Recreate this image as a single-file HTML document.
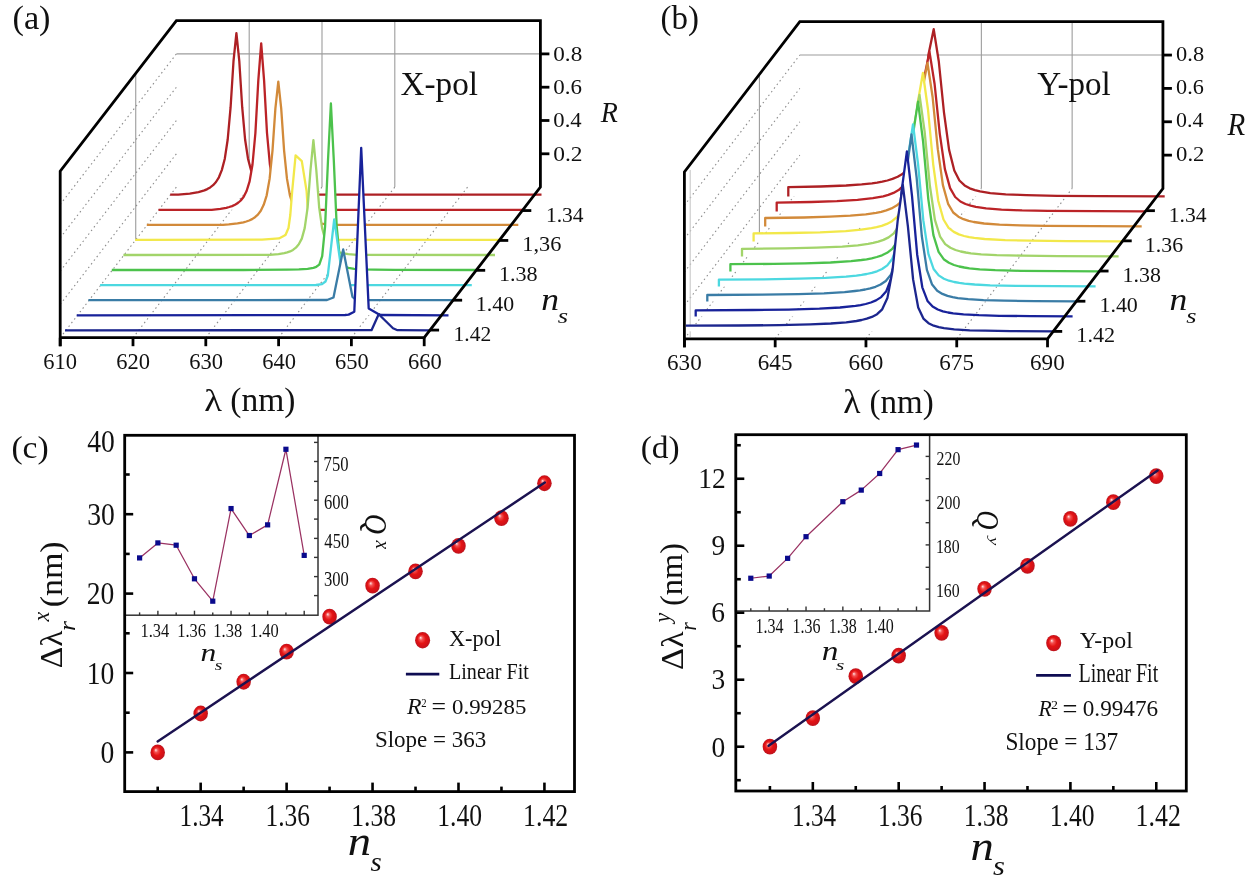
<!DOCTYPE html>
<html><head><meta charset="utf-8"><title>figure</title>
<style>html,body{margin:0;padding:0;background:#fff;}svg{display:block;filter:blur(0.45px);}text{font-family:"Liberation Serif",serif;}</style>
</head><body>
<svg width="1256" height="879" viewBox="0 0 1256 879" font-family="'Liberation Serif', serif">
<defs><radialGradient id="sph" cx="0.5" cy="0.5" r="0.5" fx="0.36" fy="0.34"><stop offset="0" stop-color="#ffe4e4"/><stop offset="0.25" stop-color="#f35050"/><stop offset="0.55" stop-color="#e41414"/><stop offset="0.85" stop-color="#d01018"/><stop offset="1" stop-color="#b81a22"/></radialGradient></defs>
<rect width="1256" height="879" fill="#fff"/>
<line x1="249.2" y1="20.6" x2="249.2" y2="187.1" stroke="#9c9c9c" stroke-width="1.1"/>
<line x1="322" y1="20.6" x2="322" y2="187.1" stroke="#9c9c9c" stroke-width="1.1"/>
<line x1="394.8" y1="20.6" x2="394.8" y2="187.1" stroke="#9c9c9c" stroke-width="1.1"/>
<line x1="176.4" y1="53.9" x2="540.4" y2="53.9" stroke="#9c9c9c" stroke-width="1.1"/>
<line x1="60.2" y1="337.7" x2="176.4" y2="187.1" stroke="#8c8c8c" stroke-width="1.1" stroke-dasharray="1.5 3.1"/>
<line x1="60.2" y1="304.4" x2="176.4" y2="153.8" stroke="#8c8c8c" stroke-width="1.1" stroke-dasharray="1.5 3.1"/>
<line x1="60.2" y1="271.1" x2="176.4" y2="120.5" stroke="#8c8c8c" stroke-width="1.1" stroke-dasharray="1.5 3.1"/>
<line x1="60.2" y1="237.8" x2="176.4" y2="87.2" stroke="#8c8c8c" stroke-width="1.1" stroke-dasharray="1.5 3.1"/>
<line x1="60.2" y1="204.5" x2="176.4" y2="53.9" stroke="#8c8c8c" stroke-width="1.1" stroke-dasharray="1.5 3.1"/>
<line x1="133" y1="337.7" x2="249.2" y2="187.1" stroke="#8c8c8c" stroke-width="1.1" stroke-dasharray="1.5 3.1"/>
<line x1="205.8" y1="337.7" x2="322" y2="187.1" stroke="#8c8c8c" stroke-width="1.1" stroke-dasharray="1.5 3.1"/>
<line x1="278.6" y1="337.7" x2="394.8" y2="187.1" stroke="#8c8c8c" stroke-width="1.1" stroke-dasharray="1.5 3.1"/>
<line x1="351.4" y1="337.7" x2="467.6" y2="187.1" stroke="#8c8c8c" stroke-width="1.1" stroke-dasharray="1.5 3.1"/>
<line x1="135.73" y1="73.31" x2="135.73" y2="239.81" stroke="#9c9c9c" stroke-width="1.1"/>
<path d="M170.2,194.7 178.2,194.7 189.8,193.6 198.5,192.1 204.4,190.4 207.3,189.1 210.2,187.4 213.1,185.2 216,182 218.9,177.3 221.8,170.1 224.8,158.7 227.7,139.5 230.6,107.2 233.5,61.2 236.4,33.2 239.3,61.2 242.2,107.2 245.1,139.5 248,158.7 251,170.1 253.9,177.3 256.8,182 259.7,185.2 262.6,187.4 265.5,189.1 268.4,190.4 271.3,191.3 277.2,192.7 285.9,194 294.6,194.7 541.5,194.7 V194.7 H170.2Z" fill="#fff" stroke="none"/>
<path d="M170.2,194.7 178.2,194.7 189.8,193.6 198.5,192.1 204.4,190.4 207.3,189.1 210.2,187.4 213.1,185.2 216,182 218.9,177.3 221.8,170.1 224.8,158.7 227.7,139.5 230.6,107.2 233.5,61.2 236.4,33.2 239.3,61.2 242.2,107.2 245.1,139.5 248,158.7 251,170.1 253.9,177.3 256.8,182 259.7,185.2 262.6,187.4 265.5,189.1 268.4,190.4 271.3,191.3 277.2,192.7 285.9,194 294.6,194.7 541.5,194.7" fill="none" stroke="#ad2024" stroke-width="2.3" stroke-linejoin="round"/>
<path d="M158.5,209.8 211.7,209.8 220.4,208.8 226.3,207.8 229.2,207 232.1,206.1 235,204.8 237.9,203 240.8,200.5 243.7,196.8 246.6,191 249.6,181.4 252.5,164.5 255.4,133 258.3,80.6 261.2,43.3 264.1,80.6 267,133 269.9,164.5 272.8,181.4 275.8,191 278.7,196.8 281.6,200.5 284.5,203 287.4,204.8 290.3,206.1 293.2,207 296.1,207.8 302,208.8 310.7,209.8 523.2,209.8 V209.8 H158.5Z" fill="#fff" stroke="none"/>
<path d="M158.5,209.8 211.7,209.8 220.4,208.8 226.3,207.8 229.2,207 232.1,206.1 235,204.8 237.9,203 240.8,200.5 243.7,196.8 246.6,191 249.6,181.4 252.5,164.5 255.4,133 258.3,80.6 261.2,43.3 264.1,80.6 267,133 269.9,164.5 272.8,181.4 275.8,191 278.7,196.8 281.6,200.5 284.5,203 287.4,204.8 290.3,206.1 293.2,207 296.1,207.8 302,208.8 310.7,209.8 523.2,209.8" fill="none" stroke="#bb2327" stroke-width="2.3" stroke-linejoin="round"/>
<path d="M146.8,224.8 223,224.8 228.8,224.4 237.5,223.4 243.4,222.3 246.3,221.5 249.2,220.5 252.1,219.1 255,217.2 257.9,214.6 260.8,210.8 263.7,204.8 266.7,195.3 269.6,178.9 272.5,150.6 275.4,108.4 278.3,81.6 281.2,108.4 284.1,150.6 287,178.9 289.9,195.3 292.9,204.8 295.8,210.8 298.7,214.6 301.6,217.2 304.5,219.1 307.4,220.5 310.3,221.5 316.2,222.9 324.9,224.1 333.6,224.8 518.3,224.8 V224.8 H146.8Z" fill="#fff" stroke="none"/>
<path d="M146.8,224.8 223,224.8 228.8,224.4 237.5,223.4 243.4,222.3 246.3,221.5 249.2,220.5 252.1,219.1 255,217.2 257.9,214.6 260.8,210.8 263.7,204.8 266.7,195.3 269.6,178.9 272.5,150.6 275.4,108.4 278.3,81.6 281.2,108.4 284.1,150.6 287,178.9 289.9,195.3 292.9,204.8 295.8,210.8 298.7,214.6 301.6,217.2 304.5,219.1 307.4,220.5 310.3,221.5 316.2,222.9 324.9,224.1 333.6,224.8 518.3,224.8" fill="none" stroke="#d28a3a" stroke-width="2.3" stroke-linejoin="round"/>
<path d="M135.1,239.9 262,239.6 279,238.4 285.5,235 288.5,228 290.3,215 292.2,191 295.6,155.3 301.8,161.1 306.6,191.1 308.6,222 311,235 315,238.8 322,239.6 500,239.9 V239.9 H135.1Z" fill="#fff" stroke="none"/>
<path d="M135.1,239.9 262,239.6 279,238.4 285.5,235 288.5,228 290.3,215 292.2,191 295.6,155.3 301.8,161.1 306.6,191.1 308.6,222 311,235 315,238.8 322,239.6 500,239.9" fill="none" stroke="#f2e84a" stroke-width="2.3" stroke-linejoin="round"/>
<path d="M123.4,255 269.7,254.9 278.5,254.1 284.3,253.1 287.2,252.4 290.1,251.4 293,249.9 295.9,247.7 298.8,244.3 301.8,238.6 304.7,228.1 307.6,207.6 310.5,170 313.4,140.1 316.3,170 319.2,207.6 322.1,228.1 325,238.6 328,244.3 330.9,247.7 333.8,249.9 336.7,251.4 339.6,252.4 342.5,253.1 348.3,254.1 357.1,254.9 495,255 V255 H123.4Z" fill="#fff" stroke="none"/>
<path d="M123.4,255 269.7,254.9 278.5,254.1 284.3,253.1 287.2,252.4 290.1,251.4 293,249.9 295.9,247.7 298.8,244.3 301.8,238.6 304.7,228.1 307.6,207.6 310.5,170 313.4,140.1 316.3,170 319.2,207.6 322.1,228.1 325,238.6 328,244.3 330.9,247.7 333.8,249.9 336.7,251.4 339.6,252.4 342.5,253.1 348.3,254.1 357.1,254.9 495,255" fill="none" stroke="#a2d46a" stroke-width="2.3" stroke-linejoin="round"/>
<path d="M111.8,270 243.5,270 287.2,269.7 298.9,269.4 307.6,268.8 313.4,267.8 316.3,266.8 319.3,264.6 322.2,256.2 325.1,226.3 328,160.3 330.9,103.5 333.8,160.3 336.7,226.3 339.6,256.2 342.5,264.6 345.5,266.8 348.4,267.8 354.2,268.8 362.9,269.4 374.6,269.7 395,269.9 476.7,270 V270 H111.8Z" fill="#fff" stroke="none"/>
<path d="M111.8,270 243.5,270 287.2,269.7 298.9,269.4 307.6,268.8 313.4,267.8 316.3,266.8 319.3,264.6 322.2,256.2 325.1,226.3 328,160.3 330.9,103.5 333.8,160.3 336.7,226.3 339.6,256.2 342.5,264.6 345.5,266.8 348.4,267.8 354.2,268.8 362.9,269.4 374.6,269.7 395,269.9 476.7,270" fill="none" stroke="#4cc24c" stroke-width="2.3" stroke-linejoin="round"/>
<path d="M100.1,285.1 316,285 322,284.2 325.5,281.5 327.8,275.5 334.2,219.4 340.3,262 342.6,276 345,283 349,285 471.8,285.1 V285.1 H100.1Z" fill="#fff" stroke="none"/>
<path d="M100.1,285.1 316,285 322,284.2 325.5,281.5 327.8,275.5 334.2,219.4 340.3,262 342.6,276 345,283 349,285 471.8,285.1" fill="none" stroke="#4cd8e0" stroke-width="2.3" stroke-linejoin="round"/>
<path d="M88.4,300.2 327,300 333.5,297.5 343.2,249.5 352.5,297 356,300 453.4,300.2 V300.2 H88.4Z" fill="#fff" stroke="none"/>
<path d="M88.4,300.2 327,300 333.5,297.5 343.2,249.5 352.5,297 356,300 453.4,300.2" fill="none" stroke="#3a7ca6" stroke-width="2.3" stroke-linejoin="round"/>
<path d="M76.7,315.3 345,315 348.6,314.6 354.3,311.8 361.2,147.8 368.7,308.4 378.7,314.2 381,315 448.5,315.3 V315.3 H76.7Z" fill="#fff" stroke="none"/>
<path d="M76.7,315.3 345,315 348.6,314.6 354.3,311.8 361.2,147.8 368.7,308.4 378.7,314.2 381,315 448.5,315.3" fill="none" stroke="#18229a" stroke-width="2.3" stroke-linejoin="round"/>
<path d="M65,330.3 371.5,330.2 378.7,314.2 393,328.2 397.5,330.2 430.2,330.3 V330.3 H65Z" fill="#fff" stroke="none"/>
<path d="M65,330.3 371.5,330.2 378.7,314.2 393,328.2 397.5,330.2 430.2,330.3" fill="none" stroke="#1c268e" stroke-width="2.3" stroke-linejoin="round"/>
<polyline points="60.2,346.2 60.2,171.2 176.4,20.6 540.4,20.6 540.4,187.1 424.2,337.7 60.2,337.7" stroke="#000" stroke-width="2.8" fill="none" stroke-linejoin="miter"/>
<line x1="60.2" y1="337.7" x2="60.2" y2="346.2" stroke="#000" stroke-width="2.8"/>
<line x1="133" y1="337.7" x2="133" y2="346.2" stroke="#000" stroke-width="2.8"/>
<line x1="205.8" y1="337.7" x2="205.8" y2="346.2" stroke="#000" stroke-width="2.8"/>
<line x1="278.6" y1="337.7" x2="278.6" y2="346.2" stroke="#000" stroke-width="2.8"/>
<line x1="351.4" y1="337.7" x2="351.4" y2="346.2" stroke="#000" stroke-width="2.8"/>
<line x1="424.2" y1="337.7" x2="424.2" y2="346.2" stroke="#000" stroke-width="2.8"/>
<line x1="540.4" y1="153.8" x2="549.4" y2="153.8" stroke="#000" stroke-width="2.8"/>
<line x1="540.4" y1="120.5" x2="549.4" y2="120.5" stroke="#000" stroke-width="2.8"/>
<line x1="540.4" y1="87.2" x2="549.4" y2="87.2" stroke="#000" stroke-width="2.8"/>
<line x1="540.4" y1="53.9" x2="549.4" y2="53.9" stroke="#000" stroke-width="2.8"/>
<line x1="522.3" y1="210.56" x2="531.3" y2="210.56" stroke="#000" stroke-width="2.8"/>
<line x1="499.25" y1="240.44" x2="508.25" y2="240.44" stroke="#000" stroke-width="2.8"/>
<line x1="476.19" y1="270.32" x2="485.19" y2="270.32" stroke="#000" stroke-width="2.8"/>
<line x1="453.13" y1="300.2" x2="462.13" y2="300.2" stroke="#000" stroke-width="2.8"/>
<line x1="430.08" y1="330.08" x2="439.08" y2="330.08" stroke="#000" stroke-width="2.8"/>
<line x1="981.36" y1="21.7" x2="981.36" y2="188.5" stroke="#9c9c9c" stroke-width="1.1"/>
<line x1="1072.14" y1="21.7" x2="1072.14" y2="188.5" stroke="#9c9c9c" stroke-width="1.1"/>
<line x1="799.8" y1="55.06" x2="1162.92" y2="55.06" stroke="#9c9c9c" stroke-width="1.1"/>
<line x1="684.4" y1="338.8" x2="799.8" y2="188.5" stroke="#8c8c8c" stroke-width="1.1" stroke-dasharray="1.5 3.1"/>
<line x1="684.4" y1="305.44" x2="799.8" y2="155.14" stroke="#8c8c8c" stroke-width="1.1" stroke-dasharray="1.5 3.1"/>
<line x1="684.4" y1="272.08" x2="799.8" y2="121.78" stroke="#8c8c8c" stroke-width="1.1" stroke-dasharray="1.5 3.1"/>
<line x1="684.4" y1="238.72" x2="799.8" y2="88.42" stroke="#8c8c8c" stroke-width="1.1" stroke-dasharray="1.5 3.1"/>
<line x1="684.4" y1="205.36" x2="799.8" y2="55.06" stroke="#8c8c8c" stroke-width="1.1" stroke-dasharray="1.5 3.1"/>
<line x1="775.18" y1="338.8" x2="890.58" y2="188.5" stroke="#8c8c8c" stroke-width="1.1" stroke-dasharray="1.5 3.1"/>
<line x1="865.96" y1="338.8" x2="981.36" y2="188.5" stroke="#8c8c8c" stroke-width="1.1" stroke-dasharray="1.5 3.1"/>
<line x1="956.74" y1="338.8" x2="1072.14" y2="188.5" stroke="#8c8c8c" stroke-width="1.1" stroke-dasharray="1.5 3.1"/>
<line x1="759.41" y1="74.31" x2="759.41" y2="241.11" stroke="#9c9c9c" stroke-width="1.1"/>
<line x1="690.2" y1="170" x2="690.2" y2="337" stroke="#c8c8c8" stroke-width="1.1"/>
<path d="M788.3,196.6 788.3,187.1 820.5,186.5 846.2,185.5 861.7,184.4 872,183.3 877.1,182.6 882.3,181.7 887.4,180.5 892.5,178.9 897.7,176.8 902.8,173.7 908,168.4 913.1,158.2 918.3,137.6 923.4,101.4 928.6,53.9 933.7,29.2 938.8,61.5 944,112.6 949.1,149.9 954.3,170.5 959.4,180.5 964.6,185.4 969.7,188.3 974.9,190.1 980,191.4 990.3,193.1 1005.7,194.4 1026.3,195.2 1057.2,195.8 1098.3,196.2 1164.7,196.4 V196.6 H788.3Z" fill="#fff" stroke="none"/>
<path d="M788.3,196.6 788.3,187.1 820.5,186.5 846.2,185.5 861.7,184.4 872,183.3 877.1,182.6 882.3,181.7 887.4,180.5 892.5,178.9 897.7,176.8 902.8,173.7 908,168.4 913.1,158.2 918.3,137.6 923.4,101.4 928.6,53.9 933.7,29.2 938.8,61.5 944,112.6 949.1,149.9 954.3,170.5 959.4,180.5 964.6,185.4 969.7,188.3 974.9,190.1 980,191.4 990.3,193.1 1005.7,194.4 1026.3,195.2 1057.2,195.8 1098.3,196.2 1164.7,196.4" fill="none" stroke="#ad2024" stroke-width="2.3" stroke-linejoin="round"/>
<path d="M776.7,211.6 776.7,202.6 811.2,202 836.9,201.2 857.5,199.9 872.9,198.2 883.2,196.3 888.3,194.9 893.5,192.9 898.6,190.1 903.8,185.3 908.9,176.1 914.1,157.2 919.2,122.9 924.4,76.6 929.5,51.9 934.6,84 939.8,133.8 944.9,169.1 950.1,188.1 955.2,197 960.4,201.5 965.5,204 970.7,205.7 975.8,206.9 986.1,208.4 1001.5,209.6 1022.1,210.4 1047.8,210.8 1145.5,211.4 V211.6 H776.7Z" fill="#fff" stroke="none"/>
<path d="M776.7,211.6 776.7,202.6 811.2,202 836.9,201.2 857.5,199.9 872.9,198.2 883.2,196.3 888.3,194.9 893.5,192.9 898.6,190.1 903.8,185.3 908.9,176.1 914.1,157.2 919.2,122.9 924.4,76.6 929.5,51.9 934.6,84 939.8,133.8 944.9,169.1 950.1,188.1 955.2,197 960.4,201.5 965.5,204 970.7,205.7 975.8,206.9 986.1,208.4 1001.5,209.6 1022.1,210.4 1047.8,210.8 1145.5,211.4" fill="none" stroke="#bb2327" stroke-width="2.3" stroke-linejoin="round"/>
<path d="M765.2,226.6 765.2,218 804,217.5 829.8,216.7 850.3,215.7 865.8,214.3 876.1,212.8 881.2,211.8 886.3,210.3 891.5,208.4 896.6,205.6 901.8,201.1 906.9,192.2 912.1,173.5 917.2,138.5 922.4,89.8 927.5,62.9 932.6,97 937.8,149.2 942.9,185.1 948.1,203.8 953.2,212.5 958.4,216.7 963.5,219.2 968.7,220.9 973.8,222 984.1,223.5 999.5,224.6 1020.1,225.4 1045.8,225.9 1141.7,226.4 V226.6 H765.2Z" fill="#fff" stroke="none"/>
<path d="M765.2,226.6 765.2,218 804,217.5 829.8,216.7 850.3,215.7 865.8,214.3 876.1,212.8 881.2,211.8 886.3,210.3 891.5,208.4 896.6,205.6 901.8,201.1 906.9,192.2 912.1,173.5 917.2,138.5 922.4,89.8 927.5,62.9 932.6,97 937.8,149.2 942.9,185.1 948.1,203.8 953.2,212.5 958.4,216.7 963.5,219.2 968.7,220.9 973.8,222 984.1,223.5 999.5,224.6 1020.1,225.4 1045.8,225.9 1141.7,226.4" fill="none" stroke="#d28a3a" stroke-width="2.3" stroke-linejoin="round"/>
<path d="M753.6,241.6 753.6,233.4 789.2,233 820,232.3 845.7,231.1 861.2,229.7 871.5,228.2 876.6,227.2 881.7,225.8 886.9,223.9 892,221.2 897.2,216.8 902.3,208.2 907.5,189.7 912.6,154 917.8,102.5 922.9,73 928,109.5 933.2,164.3 938.3,201 943.5,219.5 948.6,227.8 953.8,231.9 958.9,234.4 964.1,236 969.2,237.1 974.3,237.9 984.6,239 1005.2,240.1 1030.9,240.7 1066.9,241.1 1122.4,241.3 V241.6 H753.6Z" fill="#fff" stroke="none"/>
<path d="M753.6,241.6 753.6,233.4 789.2,233 820,232.3 845.7,231.1 861.2,229.7 871.5,228.2 876.6,227.2 881.7,225.8 886.9,223.9 892,221.2 897.2,216.8 902.3,208.2 907.5,189.7 912.6,154 917.8,102.5 922.9,73 928,109.5 933.2,164.3 938.3,201 943.5,219.5 948.6,227.8 953.8,231.9 958.9,234.4 964.1,236 969.2,237.1 974.3,237.9 984.6,239 1005.2,240.1 1030.9,240.7 1066.9,241.1 1122.4,241.3" fill="none" stroke="#f2e84a" stroke-width="2.3" stroke-linejoin="round"/>
<path d="M742,256.6 742,248.8 785.8,248.4 816.6,247.7 842.3,246.6 857.8,245.3 868.1,243.9 873.2,242.9 878.3,241.7 883.5,239.9 888.6,237.4 893.8,233.4 898.9,225.7 904.1,208.8 909.2,175 914.4,124.6 919.5,94.9 924.6,131.4 929.8,185.1 934.9,219.8 940.1,236.7 945.2,244.1 950.4,247.8 955.5,250 960.7,251.5 965.8,252.5 970.9,253.3 981.2,254.3 996.7,255.1 1022.4,255.7 1058.4,256.1 1118.6,256.4 V256.6 H742Z" fill="#fff" stroke="none"/>
<path d="M742,256.6 742,248.8 785.8,248.4 816.6,247.7 842.3,246.6 857.8,245.3 868.1,243.9 873.2,242.9 878.3,241.7 883.5,239.9 888.6,237.4 893.8,233.4 898.9,225.7 904.1,208.8 909.2,175 914.4,124.6 919.5,94.9 924.6,131.4 929.8,185.1 934.9,219.8 940.1,236.7 945.2,244.1 950.4,247.8 955.5,250 960.7,251.5 965.8,252.5 970.9,253.3 981.2,254.3 996.7,255.1 1022.4,255.7 1058.4,256.1 1118.6,256.4" fill="none" stroke="#a2d46a" stroke-width="2.3" stroke-linejoin="round"/>
<path d="M730.4,271.6 730.4,264.2 774,263.9 804.8,263.3 830.5,262.5 851.1,261.1 861.4,260 866.6,259.3 871.7,258.3 876.8,257 882,255.3 887.1,252.8 892.3,248.8 897.4,241.2 902.6,224.4 907.7,189.3 912.9,135 918,101.7 923.1,141.6 928.3,199.1 933.4,235.1 938.6,251.9 943.7,259.2 948.9,262.8 954,265 959.2,266.5 964.3,267.5 969.4,268.3 979.7,269.3 995.2,270.1 1020.9,270.8 1099.4,271.3 V271.6 H730.4Z" fill="#fff" stroke="none"/>
<path d="M730.4,271.6 730.4,264.2 774,263.9 804.8,263.3 830.5,262.5 851.1,261.1 861.4,260 866.6,259.3 871.7,258.3 876.8,257 882,255.3 887.1,252.8 892.3,248.8 897.4,241.2 902.6,224.4 907.7,189.3 912.9,135 918,101.7 923.1,141.6 928.3,199.1 933.4,235.1 938.6,251.9 943.7,259.2 948.9,262.8 954,265 959.2,266.5 964.3,267.5 969.4,268.3 979.7,269.3 995.2,270.1 1020.9,270.8 1099.4,271.3" fill="none" stroke="#4cc24c" stroke-width="2.3" stroke-linejoin="round"/>
<path d="M718.9,286.6 718.9,279.6 763.8,279.3 799.8,278.7 825.5,277.9 846.1,276.7 856.4,275.6 861.6,274.9 866.7,274 871.8,272.9 877,271.3 882.1,269 887.3,265.4 892.4,258.7 897.6,243.5 902.7,210.6 907.9,157.8 913,124.4 918.1,164.3 923.3,220.2 928.4,253.8 933.6,269 938.7,275.4 943.9,278.7 949,280.7 954.2,282 959.3,282.9 964.4,283.6 974.7,284.5 990.2,285.3 1015.9,285.8 1095.6,286.4 V286.6 H718.9Z" fill="#fff" stroke="none"/>
<path d="M718.9,286.6 718.9,279.6 763.8,279.3 799.8,278.7 825.5,277.9 846.1,276.7 856.4,275.6 861.6,274.9 866.7,274 871.8,272.9 877,271.3 882.1,269 887.3,265.4 892.4,258.7 897.6,243.5 902.7,210.6 907.9,157.8 913,124.4 918.1,164.3 923.3,220.2 928.4,253.8 933.6,269 938.7,275.4 943.9,278.7 949,280.7 954.2,282 959.3,282.9 964.4,283.6 974.7,284.5 990.2,285.3 1015.9,285.8 1095.6,286.4" fill="none" stroke="#4cd8e0" stroke-width="2.3" stroke-linejoin="round"/>
<path d="M707.3,301.6 707.3,295 762.3,294.6 798.3,294.1 824,293.3 844.6,292.1 854.9,291 860.1,290.4 865.2,289.5 870.3,288.3 875.5,286.8 880.6,284.5 885.8,281 890.9,274.6 896.1,259.9 901.2,226.7 906.4,171.1 911.5,134.5 916.6,177.4 921.8,236 926.9,269.9 932.1,284.6 937.2,290.8 942.4,293.9 947.5,295.9 952.7,297.2 957.8,298.1 968.1,299.2 983.5,300.1 1004.1,300.7 1035,301.1 1076.4,301.3 V301.6 H707.3Z" fill="#fff" stroke="none"/>
<path d="M707.3,301.6 707.3,295 762.3,294.6 798.3,294.1 824,293.3 844.6,292.1 854.9,291 860.1,290.4 865.2,289.5 870.3,288.3 875.5,286.8 880.6,284.5 885.8,281 890.9,274.6 896.1,259.9 901.2,226.7 906.4,171.1 911.5,134.5 916.6,177.4 921.8,236 926.9,269.9 932.1,284.6 937.2,290.8 942.4,293.9 947.5,295.9 952.7,297.2 957.8,298.1 968.1,299.2 983.5,300.1 1004.1,300.7 1035,301.1 1076.4,301.3" fill="none" stroke="#3a7ca6" stroke-width="2.3" stroke-linejoin="round"/>
<path d="M695.7,316.6 695.7,310.4 752.6,310 788.6,309.6 819.4,308.7 840,307.5 855.5,305.9 860.6,305.1 865.7,304 870.9,302.5 876,300.4 881.2,297.1 886.3,291.2 891.5,277.6 896.6,245.7 901.8,189.7 906.9,151.4 912,195.8 917.2,254.7 922.3,287.3 927.5,300.9 932.6,306.5 937.8,309.5 942.9,311.3 948.1,312.5 953.2,313.3 963.5,314.4 978.9,315.2 999.5,315.8 1030.4,316.1 1072.6,316.3 V316.6 H695.7Z" fill="#fff" stroke="none"/>
<path d="M695.7,316.6 695.7,310.4 752.6,310 788.6,309.6 819.4,308.7 840,307.5 855.5,305.9 860.6,305.1 865.7,304 870.9,302.5 876,300.4 881.2,297.1 886.3,291.2 891.5,277.6 896.6,245.7 901.8,189.7 906.9,151.4 912,195.8 917.2,254.7 922.3,287.3 927.5,300.9 932.6,306.5 937.8,309.5 942.9,311.3 948.1,312.5 953.2,313.3 963.5,314.4 978.9,315.2 999.5,315.8 1030.4,316.1 1072.6,316.3" fill="none" stroke="#18229a" stroke-width="2.3" stroke-linejoin="round"/>
<path d="M685.9,325.7 738.2,325.5 779.3,325.1 810.2,324.4 830.8,323.5 846.2,322.3 856.5,321 861.6,320 866.8,318.7 871.9,316.9 877.1,314.2 882.2,309.3 887.4,298.1 892.5,270.7 897.7,220.5 902.8,184.9 907.9,226.4 913.1,279.4 918.2,307.5 923.4,318.6 928.5,323.2 933.7,325.7 938.8,327.2 944,328.2 954.2,329.4 969.7,330.3 985.1,330.7 1010.8,331.1 1053.3,331.3 V331.6 H685.9Z" fill="#fff" stroke="none"/>
<path d="M685.9,325.7 738.2,325.5 779.3,325.1 810.2,324.4 830.8,323.5 846.2,322.3 856.5,321 861.6,320 866.8,318.7 871.9,316.9 877.1,314.2 882.2,309.3 887.4,298.1 892.5,270.7 897.7,220.5 902.8,184.9 907.9,226.4 913.1,279.4 918.2,307.5 923.4,318.6 928.5,323.2 933.7,325.7 938.8,327.2 944,328.2 954.2,329.4 969.7,330.3 985.1,330.7 1010.8,331.1 1053.3,331.3" fill="none" stroke="#1c268e" stroke-width="2.3" stroke-linejoin="round"/>
<polyline points="684.4,347.3 684.4,172 799.8,21.7 1162.92,21.7 1162.92,188.5 1047.52,338.8 684.4,338.8" stroke="#000" stroke-width="2.8" fill="none" stroke-linejoin="miter"/>
<line x1="684.4" y1="338.8" x2="684.4" y2="347.3" stroke="#000" stroke-width="2.8"/>
<line x1="775.18" y1="338.8" x2="775.18" y2="347.3" stroke="#000" stroke-width="2.8"/>
<line x1="865.96" y1="338.8" x2="865.96" y2="347.3" stroke="#000" stroke-width="2.8"/>
<line x1="956.74" y1="338.8" x2="956.74" y2="347.3" stroke="#000" stroke-width="2.8"/>
<line x1="1047.52" y1="338.8" x2="1047.52" y2="347.3" stroke="#000" stroke-width="2.8"/>
<line x1="1162.92" y1="155.14" x2="1171.92" y2="155.14" stroke="#000" stroke-width="2.8"/>
<line x1="1162.92" y1="121.78" x2="1171.92" y2="121.78" stroke="#000" stroke-width="2.8"/>
<line x1="1162.92" y1="88.42" x2="1171.92" y2="88.42" stroke="#000" stroke-width="2.8"/>
<line x1="1162.92" y1="55.06" x2="1171.92" y2="55.06" stroke="#000" stroke-width="2.8"/>
<line x1="1145.89" y1="210.68" x2="1154.89" y2="210.68" stroke="#000" stroke-width="2.8"/>
<line x1="1122.72" y1="240.86" x2="1131.72" y2="240.86" stroke="#000" stroke-width="2.8"/>
<line x1="1099.54" y1="271.04" x2="1108.54" y2="271.04" stroke="#000" stroke-width="2.8"/>
<line x1="1076.37" y1="301.22" x2="1085.37" y2="301.22" stroke="#000" stroke-width="2.8"/>
<line x1="1053.2" y1="331.41" x2="1062.2" y2="331.41" stroke="#000" stroke-width="2.8"/>
<text transform="translate(12.46 28.74) scale(1.0443 1)" font-size="32.86" font-style="normal" fill="#111">(a)</text>
<text transform="translate(400.44 94.69) scale(0.9919 1)" font-size="33.52" font-style="normal" fill="#111">X-pol</text>
<text transform="translate(553.27 60.92) scale(1.0642 1)" font-size="21.76" font-style="normal" fill="#111">0.8</text>
<text transform="translate(553.28 94.17) scale(1.0552 1)" font-size="21.76" font-style="normal" fill="#111">0.6</text>
<text transform="translate(553.29 127.37) scale(1.0420 1)" font-size="21.76" font-style="normal" fill="#111">0.4</text>
<text transform="translate(553.26 160.87) scale(1.0780 1)" font-size="21.76" font-style="normal" fill="#111">0.2</text>
<text transform="translate(600.74 121.9) scale(0.9454 1)" font-size="29.62" font-style="italic" fill="#111">R</text>
<text transform="translate(545.97 221.6) scale(1.0601 1)" font-size="20.3" font-style="normal" fill="#111">1.34</text>
<text transform="translate(522.3 251.38) scale(1.0392 1)" font-size="21.48" font-style="normal" fill="#111">1,36</text>
<text transform="translate(498.92 281.29) scale(1.0760 1)" font-size="20.59" font-style="normal" fill="#111">1.38</text>
<text transform="translate(475.84 310.99) scale(1.0611 1)" font-size="20.59" font-style="normal" fill="#111">1.40</text>
<text transform="translate(453.57 341.08) scale(1.0245 1)" font-size="21.04" font-style="normal" fill="#111">1.42</text>
<text transform="translate(541.16 310.3) scale(1.1283 1)" font-size="31.49" font-style="italic" fill="#111">n</text>
<text transform="translate(557.73 322.69) scale(1.2383 1)" font-size="21.46" font-style="italic" fill="#111">s</text>
<text transform="translate(43.3 369.37) scale(0.9814 1)" font-size="22.96" font-style="normal" fill="#111">610</text>
<text transform="translate(116.25 369.37) scale(0.9814 1)" font-size="22.96" font-style="normal" fill="#111">620</text>
<text transform="translate(189.2 369.37) scale(0.9814 1)" font-size="22.96" font-style="normal" fill="#111">630</text>
<text transform="translate(262.15 369.37) scale(0.9814 1)" font-size="22.96" font-style="normal" fill="#111">640</text>
<text transform="translate(335.1 369.37) scale(0.9814 1)" font-size="22.96" font-style="normal" fill="#111">650</text>
<text transform="translate(408.05 369.37) scale(0.9814 1)" font-size="22.96" font-style="normal" fill="#111">660</text>
<text transform="translate(204.19 411.1) scale(1.1534 1)" font-size="31.63" font-style="normal" fill="#111">λ</text>
<text transform="translate(230.29 411.48) scale(1.0274 1)" font-size="32.64" font-style="normal" fill="#111">(nm)</text>
<text transform="translate(660.52 28.5) scale(0.9708 1)" font-size="33.96" font-style="normal" fill="#111">(b)</text>
<text transform="translate(1037.17 94.59) scale(0.9882 1)" font-size="33.52" font-style="normal" fill="#111">Y-pol</text>
<text transform="translate(1176.1 61.3) scale(1.1197 1)" font-size="20" font-style="normal" fill="#111">0.8</text>
<text transform="translate(1176.11 94.1) scale(1.1102 1)" font-size="20" font-style="normal" fill="#111">0.6</text>
<text transform="translate(1176.12 127.4) scale(1.0962 1)" font-size="20" font-style="normal" fill="#111">0.4</text>
<text transform="translate(1176.09 161.3) scale(1.1342 1)" font-size="20" font-style="normal" fill="#111">0.2</text>
<text transform="translate(1227.55 135.4) scale(0.9357 1)" font-size="30.99" font-style="italic" fill="#111">R</text>
<text transform="translate(1168.76 222.08) scale(1.0285 1)" font-size="21.04" font-style="normal" fill="#111">1.34</text>
<text transform="translate(1144.84 252.08) scale(1.0379 1)" font-size="21.04" font-style="normal" fill="#111">1.36</text>
<text transform="translate(1122.53 282.39) scale(1.0520 1)" font-size="20.88" font-style="normal" fill="#111">1.38</text>
<text transform="translate(1099.43 312.09) scale(1.0520 1)" font-size="20.88" font-style="normal" fill="#111">1.40</text>
<text transform="translate(1076.32 341.88) scale(1.0540 1)" font-size="21.04" font-style="normal" fill="#111">1.42</text>
<text transform="translate(1169.56 310.3) scale(1.1283 1)" font-size="31.49" font-style="italic" fill="#111">n</text>
<text transform="translate(1186.14 322.69) scale(1.2250 1)" font-size="21.46" font-style="italic" fill="#111">s</text>
<text transform="translate(667.08 370.37) scale(0.9995 1)" font-size="23.11" font-style="normal" fill="#111">630</text>
<text transform="translate(757.83 370.37) scale(0.9921 1)" font-size="23.28" font-style="normal" fill="#111">645</text>
<text transform="translate(848.58 370.37) scale(0.9995 1)" font-size="23.11" font-style="normal" fill="#111">660</text>
<text transform="translate(939.33 370.37) scale(0.9921 1)" font-size="23.28" font-style="normal" fill="#111">675</text>
<text transform="translate(1030.08 370.37) scale(0.9995 1)" font-size="23.11" font-style="normal" fill="#111">690</text>
<text transform="translate(843.31 413.3) scale(1.0819 1)" font-size="32.91" font-style="normal" fill="#111">λ</text>
<text transform="translate(869.41 413.16) scale(0.9958 1)" font-size="33.19" font-style="normal" fill="#111">(nm)</text>
<rect x="124.7" y="435.2" width="193.3" height="180" fill="#fff" stroke="#333" stroke-width="1.5"/>
<line x1="139.6" y1="615.2" x2="139.6" y2="612.4" stroke="#333" stroke-width="1.4"/>
<line x1="157.89" y1="615.2" x2="157.89" y2="610.7" stroke="#333" stroke-width="1.4"/>
<line x1="176.18" y1="615.2" x2="176.18" y2="612.4" stroke="#333" stroke-width="1.4"/>
<line x1="194.47" y1="615.2" x2="194.47" y2="610.7" stroke="#333" stroke-width="1.4"/>
<line x1="212.76" y1="615.2" x2="212.76" y2="612.4" stroke="#333" stroke-width="1.4"/>
<line x1="231.05" y1="615.2" x2="231.05" y2="610.7" stroke="#333" stroke-width="1.4"/>
<line x1="249.34" y1="615.2" x2="249.34" y2="612.4" stroke="#333" stroke-width="1.4"/>
<line x1="267.63" y1="615.2" x2="267.63" y2="610.7" stroke="#333" stroke-width="1.4"/>
<line x1="285.92" y1="615.2" x2="285.92" y2="612.4" stroke="#333" stroke-width="1.4"/>
<line x1="304.21" y1="615.2" x2="304.21" y2="610.7" stroke="#333" stroke-width="1.4"/>
<line x1="318" y1="442.4" x2="314" y2="442.4" stroke="#333" stroke-width="1.4"/>
<line x1="318" y1="461.5" x2="314" y2="461.5" stroke="#333" stroke-width="1.4"/>
<line x1="318" y1="481.4" x2="314" y2="481.4" stroke="#333" stroke-width="1.4"/>
<line x1="318" y1="500.2" x2="314" y2="500.2" stroke="#333" stroke-width="1.4"/>
<line x1="318" y1="519.1" x2="314" y2="519.1" stroke="#333" stroke-width="1.4"/>
<line x1="318" y1="538.4" x2="314" y2="538.4" stroke="#333" stroke-width="1.4"/>
<line x1="318" y1="557.4" x2="314" y2="557.4" stroke="#333" stroke-width="1.4"/>
<line x1="318" y1="576.6" x2="314" y2="576.6" stroke="#333" stroke-width="1.4"/>
<line x1="318" y1="595.6" x2="314" y2="595.6" stroke="#333" stroke-width="1.4"/>
<polyline points="139.6,557.92 157.89,542.91 176.18,545.2 194.47,578.79 212.76,601.18 231.05,508.56 249.34,535.53 267.63,524.85 285.92,449.27 304.21,555.38" stroke="#9a3262" stroke-width="1.25" fill="none" stroke-linejoin="round"/>
<rect x="137" y="555.32" width="5.2" height="5.2" fill="#0a0a8c"/>
<rect x="155.29" y="540.31" width="5.2" height="5.2" fill="#0a0a8c"/>
<rect x="173.58" y="542.6" width="5.2" height="5.2" fill="#0a0a8c"/>
<rect x="191.87" y="576.19" width="5.2" height="5.2" fill="#0a0a8c"/>
<rect x="210.16" y="598.58" width="5.2" height="5.2" fill="#0a0a8c"/>
<rect x="228.45" y="505.96" width="5.2" height="5.2" fill="#0a0a8c"/>
<rect x="246.74" y="532.93" width="5.2" height="5.2" fill="#0a0a8c"/>
<rect x="265.03" y="522.25" width="5.2" height="5.2" fill="#0a0a8c"/>
<rect x="283.32" y="446.67" width="5.2" height="5.2" fill="#0a0a8c"/>
<rect x="301.61" y="552.78" width="5.2" height="5.2" fill="#0a0a8c"/>
<ellipse cx="157.7" cy="752.4" rx="7.26" ry="7.9" fill="url(#sph)"/>
<ellipse cx="200.67" cy="713.49" rx="7.26" ry="7.9" fill="url(#sph)"/>
<ellipse cx="243.64" cy="681.73" rx="7.26" ry="7.9" fill="url(#sph)"/>
<ellipse cx="286.61" cy="651.56" rx="7.26" ry="7.9" fill="url(#sph)"/>
<ellipse cx="329.58" cy="616.63" rx="7.26" ry="7.9" fill="url(#sph)"/>
<ellipse cx="372.55" cy="585.66" rx="7.26" ry="7.9" fill="url(#sph)"/>
<ellipse cx="415.52" cy="571.37" rx="7.26" ry="7.9" fill="url(#sph)"/>
<ellipse cx="458.49" cy="545.96" rx="7.26" ry="7.9" fill="url(#sph)"/>
<ellipse cx="501.46" cy="518.17" rx="7.26" ry="7.9" fill="url(#sph)"/>
<ellipse cx="544.43" cy="483.23" rx="7.26" ry="7.9" fill="url(#sph)"/>
<line x1="157.6" y1="741.4" x2="544.8" y2="482.5" stroke="#1b1250" stroke-width="2.4" stroke-linecap="round"/>
<rect x="124.7" y="435.3" width="449.8" height="356.3" fill="none" stroke="#000" stroke-width="2.8"/>
<line x1="157.7" y1="791.6" x2="157.7" y2="786.6" stroke="#000" stroke-width="2.6"/>
<line x1="200.67" y1="791.6" x2="200.67" y2="782.6" stroke="#000" stroke-width="2.6"/>
<line x1="243.64" y1="791.6" x2="243.64" y2="786.6" stroke="#000" stroke-width="2.6"/>
<line x1="286.61" y1="791.6" x2="286.61" y2="782.6" stroke="#000" stroke-width="2.6"/>
<line x1="329.58" y1="791.6" x2="329.58" y2="786.6" stroke="#000" stroke-width="2.6"/>
<line x1="372.55" y1="791.6" x2="372.55" y2="782.6" stroke="#000" stroke-width="2.6"/>
<line x1="415.52" y1="791.6" x2="415.52" y2="786.6" stroke="#000" stroke-width="2.6"/>
<line x1="458.49" y1="791.6" x2="458.49" y2="782.6" stroke="#000" stroke-width="2.6"/>
<line x1="501.46" y1="791.6" x2="501.46" y2="786.6" stroke="#000" stroke-width="2.6"/>
<line x1="544.43" y1="791.6" x2="544.43" y2="782.6" stroke="#000" stroke-width="2.6"/>
<line x1="124.7" y1="752.4" x2="133.2" y2="752.4" stroke="#000" stroke-width="2.6"/>
<line x1="124.7" y1="673" x2="133.2" y2="673" stroke="#000" stroke-width="2.6"/>
<line x1="124.7" y1="593.6" x2="133.2" y2="593.6" stroke="#000" stroke-width="2.6"/>
<line x1="124.7" y1="514.2" x2="133.2" y2="514.2" stroke="#000" stroke-width="2.6"/>
<line x1="124.7" y1="712.7" x2="129.7" y2="712.7" stroke="#000" stroke-width="2.6"/>
<line x1="124.7" y1="633.3" x2="129.7" y2="633.3" stroke="#000" stroke-width="2.6"/>
<line x1="124.7" y1="553.9" x2="129.7" y2="553.9" stroke="#000" stroke-width="2.6"/>
<line x1="124.7" y1="474.5" x2="129.7" y2="474.5" stroke="#000" stroke-width="2.6"/>
<ellipse cx="422.6" cy="640.2" rx="7.54" ry="8.22" fill="url(#sph)"/>
<line x1="405.9" y1="674.2" x2="439.3" y2="674.2" stroke="#0e0c52" stroke-width="2.8"/>
<text transform="translate(11.39 457.93) scale(1.0373 1)" font-size="32.42" font-style="normal" fill="#111">(c)</text>
<text transform="translate(87.31 452.45) scale(0.8900 1)" font-size="31" font-style="normal" fill="#111">40</text>
<text transform="translate(87.31 524.95) scale(0.8900 1)" font-size="31" font-style="normal" fill="#111">30</text>
<text transform="translate(86.81 603.85) scale(0.8900 1)" font-size="31" font-style="normal" fill="#111">20</text>
<text transform="translate(86.81 683.65) scale(0.8900 1)" font-size="31" font-style="normal" fill="#111">10</text>
<text transform="translate(100.61 762.55) scale(0.8900 1)" font-size="31" font-style="normal" fill="#111">0</text>
<text transform="translate(179.56 826.13) scale(0.8065 1)" font-size="31.26" font-style="normal" fill="#111">1.34</text>
<text transform="translate(265.44 826.13) scale(0.8139 1)" font-size="31.26" font-style="normal" fill="#111">1.36</text>
<text transform="translate(351.32 826.13) scale(0.8250 1)" font-size="31.03" font-style="normal" fill="#111">1.38</text>
<text transform="translate(437.22 826.13) scale(0.8250 1)" font-size="31.03" font-style="normal" fill="#111">1.40</text>
<text transform="translate(523.1 826.13) scale(0.8266 1)" font-size="31.26" font-style="normal" fill="#111">1.42</text>
<text transform="translate(347.87 855.2) scale(1.0894 1)" font-size="42.77" font-style="italic" fill="#111">n</text>
<text transform="translate(370.61 871.43) scale(1.0821 1)" font-size="26.67" font-style="italic" fill="#111">s</text>
<text transform="translate(61.8 668.34) rotate(-90) scale(1.0255 1)" font-size="32.62" font-style="normal" fill="#111">Δλ</text>
<text transform="translate(62.35 607.33) rotate(-90) scale(1.0657 1)" font-size="31.87" font-style="normal" fill="#111">(nm)</text>
<text transform="translate(75.1 630.93) rotate(-90) scale(1.1295 1)" font-size="22.77" font-style="italic" fill="#111">r</text>
<text transform="translate(49.1 621.47) rotate(-90) scale(0.9825 1)" font-size="22.39" font-style="italic" fill="#111">x</text>
<text transform="translate(140.52 636.82) scale(0.8400 1)" font-size="19.6" font-style="normal" fill="#111">1.34</text>
<text transform="translate(177.24 636.82) scale(0.8400 1)" font-size="19.6" font-style="normal" fill="#111">1.36</text>
<text transform="translate(213.32 636.87) scale(0.8400 1)" font-size="19.6" font-style="normal" fill="#111">1.38</text>
<text transform="translate(250.02 636.87) scale(0.8400 1)" font-size="19.6" font-style="normal" fill="#111">1.40</text>
<text transform="translate(200.5 660.6) scale(1.2999 1)" font-size="24.26" font-style="italic" fill="#111">n</text>
<text transform="translate(214.81 670.45) scale(1.2775 1)" font-size="15.21" font-style="italic" fill="#111">s</text>
<text transform="translate(323.62 470.78) scale(0.7900 1)" font-size="21" font-style="normal" fill="#111">750</text>
<text transform="translate(324.04 509.38) scale(0.7900 1)" font-size="21" font-style="normal" fill="#111">600</text>
<text transform="translate(324.37 547.58) scale(0.7900 1)" font-size="21" font-style="normal" fill="#111">450</text>
<text transform="translate(323.95 585.68) scale(0.7900 1)" font-size="21" font-style="normal" fill="#111">300</text>
<text transform="translate(364.75 513.66) rotate(90) scale(0.8865 1)" font-size="31.59" font-style="italic" fill="#111">Q</text>
<text transform="translate(376.2 540.59) rotate(90) scale(0.9370 1)" font-size="20.87" font-style="italic" fill="#111">x</text>
<text transform="translate(448.95 645.62) scale(0.9461 1)" font-size="23.63" font-style="normal" fill="#111">X-pol</text>
<text transform="translate(449 678.87) scale(0.8700 1)" font-size="23.13" font-style="normal" fill="#111">Linear Fit</text>
<text transform="translate(407.12 713.7) scale(1.0548 1)" font-size="22.6" font-style="italic" fill="#111">R</text>
<text transform="translate(421.32 706.8) scale(0.9336 1)" font-size="11.52" font-style="normal" fill="#111">2</text>
<text transform="translate(431.61 715.27) scale(1.0241 1)" font-size="25.2" font-style="normal" fill="#111">=</text>
<text transform="translate(451.99 713.68) scale(1.0876 1)" font-size="21.03" font-style="normal" fill="#111">0.99285</text>
<text transform="translate(374.9 747.31) scale(1.0129 1)" font-size="22.75" font-style="normal" fill="#111">Slope = 363</text>
<rect x="735.6" y="434.8" width="194" height="176.2" fill="#fff" stroke="#333" stroke-width="1.5"/>
<line x1="750.8" y1="611" x2="750.8" y2="608.2" stroke="#333" stroke-width="1.4"/>
<line x1="769.21" y1="611" x2="769.21" y2="606.5" stroke="#333" stroke-width="1.4"/>
<line x1="787.62" y1="611" x2="787.62" y2="608.2" stroke="#333" stroke-width="1.4"/>
<line x1="806.03" y1="611" x2="806.03" y2="606.5" stroke="#333" stroke-width="1.4"/>
<line x1="824.44" y1="611" x2="824.44" y2="608.2" stroke="#333" stroke-width="1.4"/>
<line x1="842.85" y1="611" x2="842.85" y2="606.5" stroke="#333" stroke-width="1.4"/>
<line x1="861.26" y1="611" x2="861.26" y2="608.2" stroke="#333" stroke-width="1.4"/>
<line x1="879.67" y1="611" x2="879.67" y2="606.5" stroke="#333" stroke-width="1.4"/>
<line x1="898.08" y1="611" x2="898.08" y2="608.2" stroke="#333" stroke-width="1.4"/>
<line x1="916.49" y1="611" x2="916.49" y2="606.5" stroke="#333" stroke-width="1.4"/>
<line x1="929.6" y1="456.4" x2="925.6" y2="456.4" stroke="#333" stroke-width="1.4"/>
<line x1="929.6" y1="478.7" x2="925.6" y2="478.7" stroke="#333" stroke-width="1.4"/>
<line x1="929.6" y1="500.5" x2="925.6" y2="500.5" stroke="#333" stroke-width="1.4"/>
<line x1="929.6" y1="522.7" x2="925.6" y2="522.7" stroke="#333" stroke-width="1.4"/>
<line x1="929.6" y1="544.9" x2="925.6" y2="544.9" stroke="#333" stroke-width="1.4"/>
<line x1="929.6" y1="567.3" x2="925.6" y2="567.3" stroke="#333" stroke-width="1.4"/>
<line x1="929.6" y1="589.1" x2="925.6" y2="589.1" stroke="#333" stroke-width="1.4"/>
<polyline points="750.8,578.25 769.21,576.06 787.62,558.34 806.03,536.69 842.85,501.7 861.26,490.11 879.67,473.49 898.08,449.65 916.49,445.06" stroke="#9a3262" stroke-width="1.25" fill="none" stroke-linejoin="round"/>
<rect x="748.2" y="575.65" width="5.2" height="5.2" fill="#0a0a8c"/>
<rect x="766.61" y="573.46" width="5.2" height="5.2" fill="#0a0a8c"/>
<rect x="785.02" y="555.74" width="5.2" height="5.2" fill="#0a0a8c"/>
<rect x="803.43" y="534.09" width="5.2" height="5.2" fill="#0a0a8c"/>
<rect x="840.25" y="499.1" width="5.2" height="5.2" fill="#0a0a8c"/>
<rect x="858.66" y="487.51" width="5.2" height="5.2" fill="#0a0a8c"/>
<rect x="877.07" y="470.89" width="5.2" height="5.2" fill="#0a0a8c"/>
<rect x="895.48" y="447.05" width="5.2" height="5.2" fill="#0a0a8c"/>
<rect x="913.89" y="442.46" width="5.2" height="5.2" fill="#0a0a8c"/>
<ellipse cx="769.9" cy="746.7" rx="7.26" ry="7.9" fill="url(#sph)"/>
<ellipse cx="812.83" cy="718.12" rx="7.26" ry="7.9" fill="url(#sph)"/>
<ellipse cx="855.76" cy="676.14" rx="7.26" ry="7.9" fill="url(#sph)"/>
<ellipse cx="898.69" cy="655.59" rx="7.26" ry="7.9" fill="url(#sph)"/>
<ellipse cx="941.62" cy="632.82" rx="7.26" ry="7.9" fill="url(#sph)"/>
<ellipse cx="984.55" cy="588.83" rx="7.26" ry="7.9" fill="url(#sph)"/>
<ellipse cx="1027.48" cy="565.83" rx="7.26" ry="7.9" fill="url(#sph)"/>
<ellipse cx="1070.41" cy="518.93" rx="7.26" ry="7.9" fill="url(#sph)"/>
<ellipse cx="1113.34" cy="502.19" rx="7.26" ry="7.9" fill="url(#sph)"/>
<ellipse cx="1156.27" cy="476.06" rx="7.26" ry="7.9" fill="url(#sph)"/>
<line x1="768.6" y1="745.7" x2="1157.6" y2="470.4" stroke="#1b1250" stroke-width="2.4" stroke-linecap="round"/>
<rect x="735.8" y="434.7" width="450.5" height="356.3" fill="none" stroke="#000" stroke-width="2.8"/>
<line x1="769.9" y1="791" x2="769.9" y2="786" stroke="#000" stroke-width="2.6"/>
<line x1="812.83" y1="791" x2="812.83" y2="782" stroke="#000" stroke-width="2.6"/>
<line x1="855.76" y1="791" x2="855.76" y2="786" stroke="#000" stroke-width="2.6"/>
<line x1="898.69" y1="791" x2="898.69" y2="782" stroke="#000" stroke-width="2.6"/>
<line x1="941.62" y1="791" x2="941.62" y2="786" stroke="#000" stroke-width="2.6"/>
<line x1="984.55" y1="791" x2="984.55" y2="782" stroke="#000" stroke-width="2.6"/>
<line x1="1027.48" y1="791" x2="1027.48" y2="786" stroke="#000" stroke-width="2.6"/>
<line x1="1070.41" y1="791" x2="1070.41" y2="782" stroke="#000" stroke-width="2.6"/>
<line x1="1113.34" y1="791" x2="1113.34" y2="786" stroke="#000" stroke-width="2.6"/>
<line x1="1156.27" y1="791" x2="1156.27" y2="782" stroke="#000" stroke-width="2.6"/>
<line x1="735.8" y1="746.7" x2="744.3" y2="746.7" stroke="#000" stroke-width="2.6"/>
<line x1="735.8" y1="679.71" x2="744.3" y2="679.71" stroke="#000" stroke-width="2.6"/>
<line x1="735.8" y1="612.72" x2="744.3" y2="612.72" stroke="#000" stroke-width="2.6"/>
<line x1="735.8" y1="545.73" x2="744.3" y2="545.73" stroke="#000" stroke-width="2.6"/>
<line x1="735.8" y1="478.74" x2="744.3" y2="478.74" stroke="#000" stroke-width="2.6"/>
<line x1="735.8" y1="780.2" x2="740.8" y2="780.2" stroke="#000" stroke-width="2.6"/>
<line x1="735.8" y1="713.21" x2="740.8" y2="713.21" stroke="#000" stroke-width="2.6"/>
<line x1="735.8" y1="646.22" x2="740.8" y2="646.22" stroke="#000" stroke-width="2.6"/>
<line x1="735.8" y1="579.23" x2="740.8" y2="579.23" stroke="#000" stroke-width="2.6"/>
<line x1="735.8" y1="512.24" x2="740.8" y2="512.24" stroke="#000" stroke-width="2.6"/>
<line x1="735.8" y1="445.25" x2="740.8" y2="445.25" stroke="#000" stroke-width="2.6"/>
<ellipse cx="1053.7" cy="643.1" rx="7.54" ry="8.22" fill="url(#sph)"/>
<line x1="1036.1" y1="675.4" x2="1070.9" y2="675.4" stroke="#0e0c52" stroke-width="2.8"/>
<text transform="translate(640.7 458) scale(1.0417 1)" font-size="32.09" font-style="normal" fill="#111">(d)</text>
<text transform="translate(698.26 488.37) scale(0.9000 1)" font-size="30.5" font-style="normal" fill="#111">12</text>
<text transform="translate(711.57 554.81) scale(0.9000 1)" font-size="30.5" font-style="normal" fill="#111">9</text>
<text transform="translate(711.3 622.21) scale(0.9000 1)" font-size="30.5" font-style="normal" fill="#111">6</text>
<text transform="translate(711.57 689.31) scale(0.9000 1)" font-size="30.5" font-style="normal" fill="#111">3</text>
<text transform="translate(711.57 756.69) scale(0.9000 1)" font-size="30.5" font-style="normal" fill="#111">0</text>
<text transform="translate(792.06 826.12) scale(0.7952 1)" font-size="31.7" font-style="normal" fill="#111">1.34</text>
<text transform="translate(877.94 826.12) scale(0.8025 1)" font-size="31.7" font-style="normal" fill="#111">1.36</text>
<text transform="translate(963.82 826.13) scale(0.8135 1)" font-size="31.47" font-style="normal" fill="#111">1.38</text>
<text transform="translate(1049.72 826.13) scale(0.8135 1)" font-size="31.47" font-style="normal" fill="#111">1.40</text>
<text transform="translate(1135.6 826.12) scale(0.8150 1)" font-size="31.7" font-style="normal" fill="#111">1.42</text>
<text transform="translate(970.47 859.6) scale(1.0894 1)" font-size="42.77" font-style="italic" fill="#111">n</text>
<text transform="translate(992.99 875.44) scale(1.1555 1)" font-size="26.46" font-style="italic" fill="#111">s</text>
<text transform="translate(683.2 670.07) rotate(-90) scale(1.0620 1)" font-size="32.2" font-style="normal" fill="#111">Δλ</text>
<text transform="translate(682.22 605.96) rotate(-90) scale(1.0115 1)" font-size="31.98" font-style="normal" fill="#111">(nm)</text>
<text transform="translate(696.4 630.78) rotate(-90) scale(0.9664 1)" font-size="22.77" font-style="italic" fill="#111">r</text>
<text transform="translate(670.25 622.46) rotate(-90) scale(0.9830 1)" font-size="22.07" font-style="italic" fill="#111">y</text>
<text transform="translate(755.44 632.65) scale(0.8000 1)" font-size="20" font-style="normal" fill="#111">1.34</text>
<text transform="translate(792.46 632.65) scale(0.8000 1)" font-size="20" font-style="normal" fill="#111">1.36</text>
<text transform="translate(828.84 632.7) scale(0.8000 1)" font-size="20" font-style="normal" fill="#111">1.38</text>
<text transform="translate(865.84 632.7) scale(0.8000 1)" font-size="20" font-style="normal" fill="#111">1.40</text>
<text transform="translate(821.63 659.9) scale(1.1987 1)" font-size="27.87" font-style="italic" fill="#111">n</text>
<text transform="translate(835.99 670.16) scale(1.5352 1)" font-size="13.96" font-style="italic" fill="#111">s</text>
<text transform="translate(936.59 464.59) scale(0.8100 1)" font-size="19.5" font-style="normal" fill="#111">220</text>
<text transform="translate(936.59 508.69) scale(0.8100 1)" font-size="19.5" font-style="normal" fill="#111">200</text>
<text transform="translate(935.96 552.79) scale(0.8100 1)" font-size="19.5" font-style="normal" fill="#111">180</text>
<text transform="translate(935.96 597.29) scale(0.8100 1)" font-size="19.5" font-style="normal" fill="#111">160</text>
<text transform="translate(976.78 510.34) rotate(90) scale(0.8559 1)" font-size="31.1" font-style="italic" fill="#111">Q</text>
<text transform="translate(990.2 537.1) rotate(90) scale(1.3995 1)" font-size="13.48" font-style="italic" fill="#111">y</text>
<text transform="translate(1079.66 648.32) scale(1.0123 1)" font-size="23.63" font-style="normal" fill="#111">Y-pol</text>
<text transform="translate(1078.5 682.02) scale(0.7280 1)" font-size="27.61" font-style="normal" fill="#111">Linear Fit</text>
<text transform="translate(1038.51 715.6) scale(0.9720 1)" font-size="22.29" font-style="italic" fill="#111">R</text>
<text transform="translate(1050.97 708.7) scale(1.0871 1)" font-size="12.88" font-style="normal" fill="#111">2</text>
<text transform="translate(1062.38 717.79) scale(0.9870 1)" font-size="26.8" font-style="normal" fill="#111">=</text>
<text transform="translate(1082.77 716.45) scale(0.9975 1)" font-size="23.24" font-style="normal" fill="#111">0.99476</text>
<text transform="translate(1005.38 750.25) scale(0.9554 1)" font-size="24.4" font-style="normal" fill="#111">Slope = 137</text>
</svg>
</body></html>
